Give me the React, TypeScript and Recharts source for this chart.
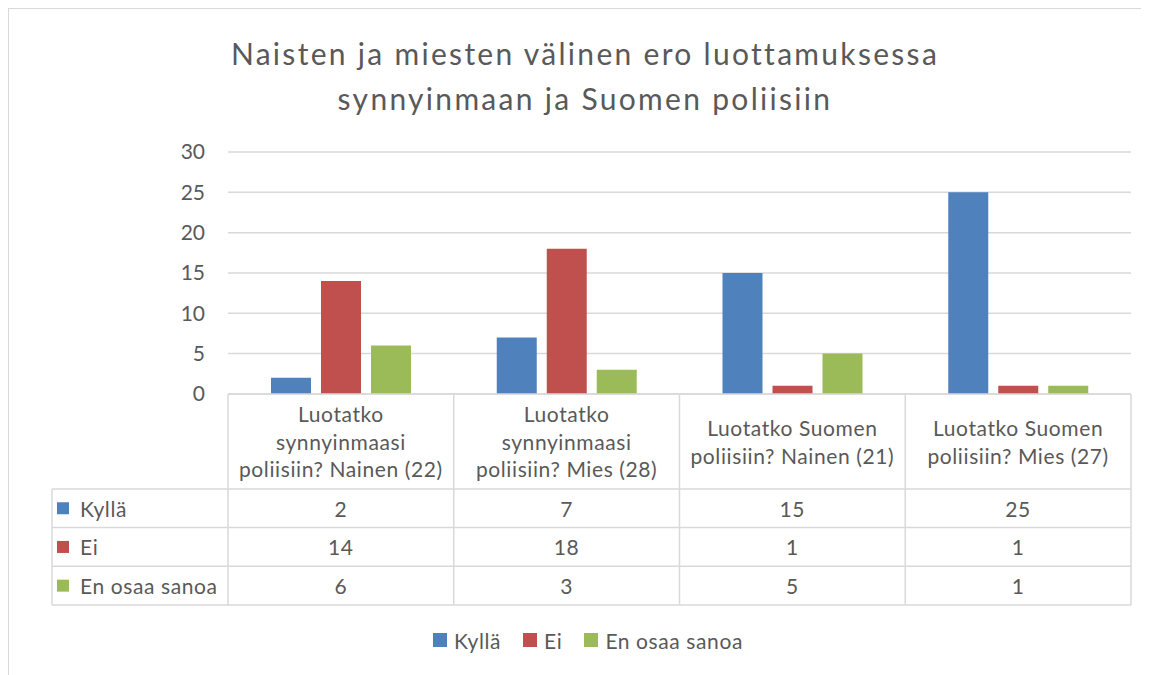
import React from "react";
import { BarChart, Bar, XAxis, YAxis, CartesianGrid, Legend } from "recharts";

const TITLE_LINES = ["Naisten ja miesten välinen ero luottamuksessa", "synnyinmaan ja Suomen poliisiin"];
const categories = [
  "Luotatko synnyinmaasi poliisiin? Nainen (22)",
  "Luotatko synnyinmaasi poliisiin? Mies (28)",
  "Luotatko Suomen poliisiin? Nainen (21)",
  "Luotatko Suomen poliisiin? Mies (27)",
];
const categoryLines = [
  ["Luotatko", "synnyinmaasi", "poliisiin? Nainen (22)"],
  ["Luotatko", "synnyinmaasi", "poliisiin? Mies (28)"],
  ["Luotatko Suomen", "poliisiin? Nainen (21)"],
  ["Luotatko Suomen", "poliisiin? Mies (27)"],
];
const seriesNames = ["Kyllä", "Ei", "En osaa sanoa"];
const seriesKeys = ["kylla", "ei", "eos"];
const seriesColors = ["#4f81bd", "#c0504d", "#9bbb59"];
const kylla = [2, 7, 15, 25];
const ei = [14, 18, 1, 1];
const eos = [6, 3, 5, 1];
const yTicks = [0, 5, 10, 15, 20, 25, 30];

const seriesValues = [kylla, ei, eos];
const data = categories.map((c, i) => ({ category: c, kylla: kylla[i], ei: ei[i], eos: eos[i] }));

const FONT = "Lato, 'Open Sans', sans-serif";
const TEXT = "#595959";
const LINE = "#d9d9d9";
const W = 1140;
const H = 666;
const MARGIN = { top: 143, left: 159, right: 18, bottom: 20 };
const YAXIS_W = 60;
const PLOT_W = W - MARGIN.left - YAXIS_W - MARGIN.right;
const BAND = PLOT_W / categories.length;
const HEADER_H = 95;
const ROW_H = 38.7;
const LABEL_COL_W = 176;
const XAXIS_H = HEADER_H + 3 * ROW_H + 1;
const TABLE_FS = 21;
const TABLE_LS = 0.6;

function TableColumn(props: any) {
  const { x, y, index } = props;
  const left = x - BAND / 2;
  const right = x + BAND / 2;
  const bottom = y + HEADER_H + 3 * ROW_H;
  const lines = categoryLines[index] || [];
  const els: any[] = [];
  const txt = { fill: TEXT, fontSize: TABLE_FS, fontFamily: FONT, letterSpacing: TABLE_LS } as any;
  els.push(<line key="vl" x1={left} y1={y} x2={left} y2={bottom} stroke={LINE} strokeWidth={1.5} />);
  if (index === categories.length - 1) {
    els.push(<line key="vr" x1={right} y1={y} x2={right} y2={bottom} stroke={LINE} strokeWidth={1.5} />);
  }
  for (let k = 0; k <= 3; k++) {
    const yy = y + HEADER_H + k * ROW_H;
    els.push(<line key={"h" + k} x1={left} y1={yy} x2={right} y2={yy} stroke={LINE} strokeWidth={1.5} />);
  }
  lines.forEach((ln, i) => {
    els.push(
      <text key={"t" + i} x={x} y={y + HEADER_H / 2 + (i - (lines.length - 1) / 2) * 27.5} textAnchor="middle" dominantBaseline="central" {...txt}>
        {ln}
      </text>
    );
  });
  seriesValues.forEach((vals, k) => {
    els.push(
      <text key={"v" + k} x={x} y={y + HEADER_H + (k + 0.5) * ROW_H} textAnchor="middle" dominantBaseline="central" {...txt}>
        {vals[index]}
      </text>
    );
  });
  if (index === 0) {
    const L = left - LABEL_COL_W;
    els.push(<line key="lv" x1={L} y1={y + HEADER_H} x2={L} y2={bottom} stroke={LINE} strokeWidth={1.5} />);
    for (let k = 0; k <= 3; k++) {
      const yy = y + HEADER_H + k * ROW_H;
      els.push(<line key={"lh" + k} x1={L} y1={yy} x2={left} y2={yy} stroke={LINE} strokeWidth={1.5} />);
    }
    seriesNames.forEach((nm, k) => {
      const cy = y + HEADER_H + (k + 0.5) * ROW_H;
      els.push(<rect key={"ls" + k} x={L + 5} y={cy - 6} width={12} height={12} fill={seriesColors[k]} />);
      els.push(
        <text key={"lt" + k} x={L + 28} y={cy} dominantBaseline="central" {...txt}>
          {nm}
        </text>
      );
    });
  }
  return <g>{els}</g>;
}

function LegendContent() {
  return (
    <div style={{ height: 49, paddingTop: 19, paddingLeft: 18, boxSizing: "border-box", display: "flex", justifyContent: "center", alignItems: "center", fontFamily: FONT, fontSize: 21, letterSpacing: 0.6, color: TEXT }}>
      {seriesNames.map((nm, k) => (
        <div key={nm} style={{ display: "flex", alignItems: "center", marginRight: k < seriesNames.length - 1 ? 22 : 0 }}>
          <div style={{ width: 14, height: 14, background: seriesColors[k], marginRight: 7 }} />
          <span>{nm}</span>
        </div>
      ))}
    </div>
  );
}

export default function App() {
  return (
    <div style={{ position: "relative", width: 1141, height: 667, borderTop: "1px solid #d9d9d9", borderLeft: "1px solid #d9d9d9", boxSizing: "border-box", fontFamily: FONT, background: "#fff" }}>
      <div style={{ position: "absolute", top: 22, left: 0, width: W, paddingLeft: 12, boxSizing: "border-box", textAlign: "center", fontSize: 30, letterSpacing: 2.3, lineHeight: "45px", color: TEXT, fontFamily: FONT }}>
        {TITLE_LINES.map((t) => (
          <div key={t}>{t}</div>
        ))}
      </div>
      <BarChart width={W} height={H} data={data} margin={MARGIN} barSize={40} barGap={10}>
        <CartesianGrid vertical={false} stroke={LINE} strokeWidth={1.5} />
        <XAxis dataKey="category" interval={0} height={XAXIS_H} tickSize={0} tickMargin={0} tickLine={false} axisLine={{ stroke: LINE, strokeWidth: 1.5 }} tick={<TableColumn />} />
        <YAxis width={YAXIS_W} domain={[0, 30]} ticks={yTicks} axisLine={false} tickLine={false} tickMargin={17} tick={{ fill: TEXT, fontSize: 21, fontFamily: FONT }} />
        {seriesKeys.map((k, i) => (
          <Bar key={k} dataKey={k} name={seriesNames[i]} fill={seriesColors[i]} isAnimationActive={false} />
        ))}
        <Legend verticalAlign="bottom" content={<LegendContent />} wrapperStyle={{ left: 0, width: W, height: 49 }} />
      </BarChart>
    </div>
  );
}
